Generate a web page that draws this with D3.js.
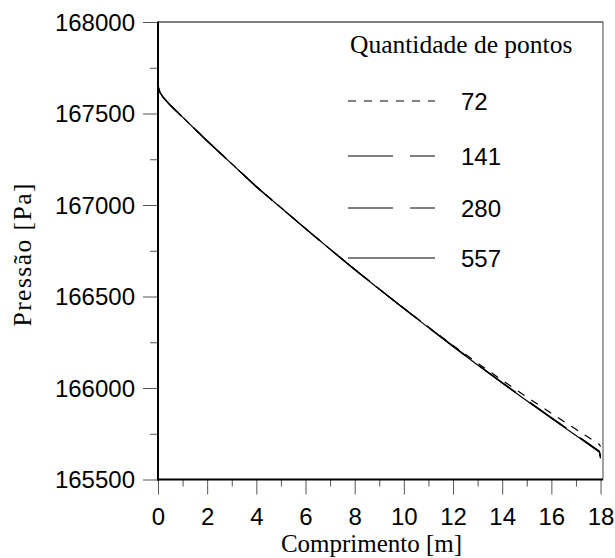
<!DOCTYPE html>
<html>
<head>
<meta charset="utf-8">
<script src="https://cdn.jsdelivr.net/npm/d3@7/dist/d3.min.js"></script>
<style>
  html, body { margin: 0; padding: 0; background: #fff; }
  svg { display: block; }
</style>
</head>
<body>
<svg id="chart" width="615" height="558"></svg>
<script>
// Pressure along the pipe for four mesh resolutions
const comprimento = [0, 0.02, 0.08, 0.2, 0.5, 1, 2, 3, 4, 5, 6, 7, 8, 9, 10, 11, 12, 13, 14, 15, 16, 17, 17.95, 18];

const pressao72  = [167685, 167645, 167617, 167591, 167546, 167481, 167351, 167226, 167101, 166986, 166872, 166759, 166649, 166541, 166436, 166333, 166233, 166136, 166042, 165951, 165862, 165774, 165692, 165680];
const pressao141 = [167685, 167641, 167615, 167590, 167545, 167480, 167350, 167225, 167100, 166985, 166871, 166758, 166648, 166541, 166435, 166332, 166229, 166129, 166030, 165934, 165839, 165745, 165656, 165628];
const pressao280 = [167685, 167640, 167615, 167590, 167545, 167480, 167350, 167225, 167100, 166985, 166871, 166758, 166648, 166540, 166434, 166331, 166228, 166127, 166028, 165931, 165836, 165742, 165652, 165620];
const pressao557 = [167685, 167640, 167615, 167590, 167545, 167480, 167350, 167225, 167100, 166985, 166871, 166758, 166648, 166540, 166434, 166330, 166227, 166126, 166027, 165930, 165834, 165740, 165650, 165615];

const seriesNames = ["72", "141", "280", "557"];
const seriesValues = [pressao72, pressao141, pressao280, pressao557];
const seriesDash = ["8,8", "45,17", "45,17", null];

const xMajorTicks = [0, 2, 4, 6, 8, 10, 12, 14, 16, 18];
const xMinorTicks = [1, 3, 5, 7, 9, 11, 13, 15, 17];
const yMajorTicks = [165500, 166000, 166500, 167000, 167500, 168000];
const yMinorTicks = [165750, 166250, 166750, 167250, 167750];

const legendTitle = "Quantidade de pontos";
const xTitle = "Comprimento [m]";
const yTitle = "Pressão [Pa]";

// Layout
const plot = { left: 158, top: 22, right: 603, bottom: 479.5 };
const sans = "'Liberation Sans', Arial, sans-serif";
const serif = "'Liberation Serif', 'Times New Roman', serif";

const svg = d3.select("#chart");

const x = d3.scaleLinear().domain([0, 18.1]).range([plot.left, plot.right]);
const y = d3.scaleLinear().domain([165500, 168000]).range([plot.bottom, plot.top]);

// Frame: thin top/right, heavier left/bottom axes
svg.append("line").attr("x1", plot.left).attr("x2", plot.right)
  .attr("y1", plot.top).attr("y2", plot.top)
  .attr("stroke", "#000").attr("stroke-width", 1);
svg.append("line").attr("x1", plot.right).attr("x2", plot.right)
  .attr("y1", plot.top).attr("y2", plot.bottom)
  .attr("stroke", "#444").attr("stroke-width", 1);

// Axes (ticks only; axis lines drawn below)
function styleAxis(g, size) {
  g.select(".domain").remove();
  g.selectAll(".tick line").attr("stroke", "#555").attr("stroke-width", 1);
  g.selectAll(".tick text").attr("fill", "#000").style("font-family", sans).style("font-size", size + "px");
}

const gyMinor = svg.append("g").attr("transform", `translate(${plot.left},0)`)
  .call(d3.axisLeft(y).tickValues(yMinorTicks).tickSize(8).tickFormat(""));
styleAxis(gyMinor, 24);
const gy = svg.append("g").attr("transform", `translate(${plot.left},0)`)
  .call(d3.axisLeft(y).tickValues(yMajorTicks).tickSize(15).tickPadding(8).tickFormat(d3.format("d")));
styleAxis(gy, 24);
gy.selectAll(".tick text").attr("dy", "0.34em");

const gxMinor = svg.append("g").attr("transform", `translate(0,${plot.bottom})`)
  .call(d3.axisBottom(x).tickValues(xMinorTicks).tickSize(7).tickFormat(""));
styleAxis(gxMinor, 24);
const gx = svg.append("g").attr("transform", `translate(0,${plot.bottom})`)
  .call(d3.axisBottom(x).tickValues(xMajorTicks).tickSize(15).tickPadding(0).tickFormat(d3.format("d")));
styleAxis(gx, 24);
gx.selectAll(".tick text").attr("dy", null).attr("y", 45);

svg.append("line").attr("x1", plot.left).attr("x2", plot.left)
  .attr("y1", plot.top - 0.5).attr("y2", plot.bottom + 1)
  .attr("stroke", "#000").attr("stroke-width", 2);
svg.append("line").attr("x1", plot.left - 1).attr("x2", plot.right)
  .attr("y1", plot.bottom).attr("y2", plot.bottom)
  .attr("stroke", "#000").attr("stroke-width", 2);

// Curves
const line = d3.line()
  .x((d, i) => x(comprimento[i]))
  .y(d => y(d));

seriesValues.forEach((vals, k) => {
  svg.append("path")
    .datum(vals)
    .attr("d", line)
    .attr("fill", "none")
    .attr("stroke", "#000")
    .attr("stroke-width", 1.2)
    .attr("stroke-linejoin", "round")
    .attr("stroke-dasharray", seriesDash[k]);
});

// Legend
svg.append("text").attr("x", 350).attr("y", 53)
  .style("font-family", serif).style("font-size", "25.5px").attr("fill", "#000")
  .text(legendTitle);

const legendY = [101, 156, 208, 258];
seriesNames.forEach((name, k) => {
  svg.append("line")
    .attr("x1", 348).attr("x2", 435)
    .attr("y1", legendY[k]).attr("y2", legendY[k])
    .attr("stroke", "#000").attr("stroke-width", 1)
    .attr("stroke-dasharray", seriesDash[k]);
  svg.append("text")
    .attr("x", 461).attr("y", legendY[k] + 9)
    .style("font-family", sans).style("font-size", "24px").attr("fill", "#000")
    .text(name);
});

// Axis titles
svg.append("text")
  .attr("x", 371.5).attr("y", 552)
  .attr("text-anchor", "middle")
  .style("font-family", serif).style("font-size", "25px").attr("fill", "#000")
  .text(xTitle);

svg.append("text")
  .attr("transform", "translate(31,255) rotate(-90)")
  .attr("text-anchor", "middle")
  .style("font-family", serif).style("font-size", "25.5px").attr("fill", "#000")
  .attr("textLength", 143).attr("lengthAdjust", "spacing")
  .text(yTitle);
</script>
</body>
</html>
